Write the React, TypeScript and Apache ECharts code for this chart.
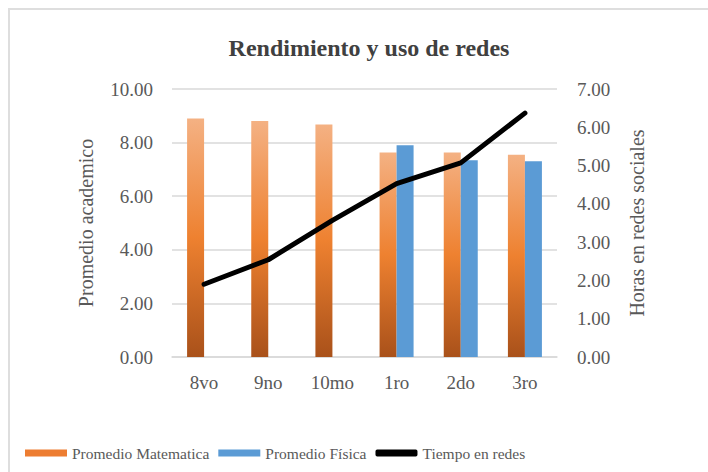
import React, { useEffect, useRef } from "react";
import * as echarts from "echarts";

const categories = ["8vo", "9no", "10mo", "1ro", "2do", "3ro"];
const promedioMatematica = [8.9, 8.81, 8.68, 7.63, 7.63, 7.55];
const promedioFisica = [null, null, null, 7.9, 7.34, 7.3];
const tiempoRedes = [1.9, 2.54, 3.57, 4.53, 5.07, 6.37];

const FONT = "'Liberation Serif', 'DejaVu Serif', serif";

export default function App() {
  const ref = useRef<HTMLDivElement>(null);
  useEffect(() => {
    document.body.style.margin = "0";
    document.body.style.overflow = "hidden";
    const chart = echarts.init(ref.current!, null, { renderer: "svg" });
    const orangeGrad = new echarts.graphic.LinearGradient(0, 0, 0, 1, [
      { offset: 0, color: "#F4B183" },
      { offset: 0.5, color: "#EE8130" },
      { offset: 1, color: "#A9511A" },
    ]);
    chart.setOption({
      animation: false,
      backgroundColor: "#ffffff",
      textStyle: { fontFamily: FONT },
      title: {
        text: "Rendimiento y uso de redes",
        left: 364,
        top: 31,
        textAlign: "center",
        textStyle: { fontFamily: FONT, fontSize: 24, fontWeight: "bold", color: "#404040" },
      },
      graphic: [
        {
          type: "rect",
          shape: { x: 9, y: 9, width: 760, height: 520 },
          style: { fill: "none", stroke: "#dedede", lineWidth: 2 },
          silent: true,
        },
      ],
      legend: {
        left: 20,
        top: 440,
        width: 1000,
        itemWidth: 42,
        itemHeight: 7,
        itemGap: 9,
        textStyle: { fontFamily: FONT, fontSize: 15.5, color: "#595959" },
        data: [
          { name: "Promedio Matematica", icon: "rect", itemStyle: { color: "#ED7D31" } },
          { name: "Promedio Física", icon: "rect", itemStyle: { color: "#5B9BD5" } },
          { name: "Tiempo en redes", icon: "roundRect", itemStyle: { color: "#000000" } },
        ],
      },
      grid: { left: 172, right: 151, top: 89, bottom: 115, containLabel: false },
      xAxis: {
        type: "category",
        data: categories,
        axisLine: { lineStyle: { color: "#d9d9d9", width: 1.5 } },
        axisTick: { show: false },
        axisLabel: { fontFamily: FONT, fontSize: 19, color: "#595959", margin: 16 },
      },
      yAxis: [
        {
          type: "value",
          min: 0,
          max: 10,
          interval: 2,
          name: "Promedio academico",
          nameLocation: "middle",
          nameGap: 76,
          nameTextStyle: { fontFamily: FONT, fontSize: 20, color: "#595959" },
          axisLabel: {
            fontFamily: FONT,
            fontSize: 19,
            color: "#595959",
            margin: 19,
            formatter: (v: number) => v.toFixed(2),
          },
          splitLine: { lineStyle: { color: "#d9d9d9", width: 1.5 } },
          axisLine: { show: false },
          axisTick: { show: false },
        },
        {
          type: "value",
          min: 0,
          max: 7,
          interval: 1,
          position: "right",
          name: "Horas en redes sociales",
          nameLocation: "middle",
          nameGap: 70,
          nameTextStyle: { fontFamily: FONT, fontSize: 20, color: "#595959" },
          axisLabel: {
            fontFamily: FONT,
            fontSize: 19,
            color: "#595959",
            margin: 20,
            formatter: (v: number) => v.toFixed(2),
          },
          splitLine: { show: false },
          axisLine: { show: false },
          axisTick: { show: false },
        },
      ],
      series: [
        {
          name: "Promedio Matematica",
          type: "bar",
          data: promedioMatematica,
          barWidth: 17,
          barGap: "0%",
          itemStyle: { color: orangeGrad },
        },
        {
          name: "Promedio Física",
          type: "bar",
          data: promedioFisica,
          barWidth: 17,
          barGap: "0%",
          itemStyle: { color: "#5B9BD5" },
        },
        {
          name: "Tiempo en redes",
          type: "line",
          yAxisIndex: 1,
          data: tiempoRedes,
          symbol: "none",
          itemStyle: { color: "#000000" },
          lineStyle: { color: "#000000", width: 5, cap: "round", join: "round" },
        },
      ],
    });
    return () => chart.dispose();
  }, []);
  return (
    <div
      ref={ref}
      style={{ position: "fixed", left: 0, top: 0, width: 708, height: 472 }}
    />
  );
}
